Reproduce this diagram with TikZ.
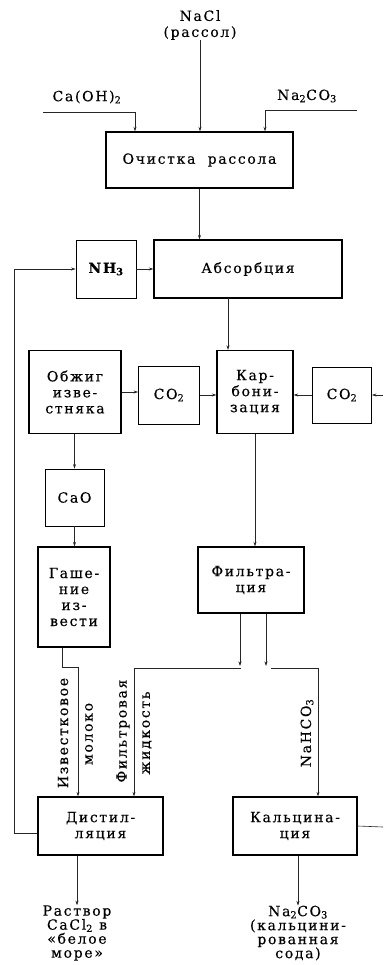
\documentclass[tikz,border=0pt]{standalone}
\usepackage{fontspec}
\setmainfont{DejaVu Serif}[LetterSpace=12, FakeBold=0.3]
\usetikzlibrary{arrows.meta}
\tikzset{
  base/.style={font=\fontsize{14}{16}\selectfont, align=center, inner sep=0pt},
  mainbox/.style={base, draw, line width=1.4pt},
  smallbox/.style={base, draw, line width=0.9pt},
  lbl/.style={base},
  conn/.style={line width=0.6pt, black!85},
  arr/.style={conn, -{Stealth[length=4.5pt,width=3pt]}},
}
\begin{document}
\begin{tikzpicture}[x=1pt,y=-1pt]
\useasboundingbox (0,0) rectangle (383,965);
% boxes
\node[mainbox, minimum width=187, minimum height=56] (ochist) at (199.5,160) {Очистка\ \ рассола};
\node[mainbox, minimum width=188, minimum height=58] (absorb) at (248,269) {Абсорбция};
\node[smallbox, minimum width=60, minimum height=58] (nh3) at (106,269) {\textbf{NH\textsubscript{3}}};
\node[mainbox, minimum width=92, minimum height=83] (obzhig) at (75,392) {Обжиг\\изве-\\стняка};
\node[smallbox, minimum width=61, minimum height=58] (co2a) at (169,395) {CO\textsubscript{2}};
\node[mainbox, minimum width=76, minimum height=83] (karb) at (255,392) {Кар-\\бони-\\зация};
\node[smallbox, minimum width=59, minimum height=56] (co2b) at (342,395) {CO\textsubscript{2}};
\node[smallbox, minimum width=59, minimum height=57] (cao) at (74.5,497.5) {СаО};
\node[mainbox, minimum width=72, minimum height=100] (gash) at (74,597) {Гаше-\\ние\\из-\\вести};
\node[mainbox, minimum width=106, minimum height=66] (filt) at (251,580) {Фильтра-\\ция};
\node[mainbox, minimum width=125, minimum height=58] (dist) at (100.5,826) {Дистил-\\ляция};
\node[mainbox, minimum width=124, minimum height=58] (kalc) at (295,826) {Кальцина-\\ция};
% free labels
\node[lbl] (nacl) at (200,25) {NaCl\\(рассол)};
\node[lbl] (caoh) at (87,97) {Ca(OH)\textsubscript{2}};
\node[lbl] (naco) at (307,96) {Na\textsubscript{2}CO\textsubscript{3}};
\node[lbl, font=\fontsize{14}{14}\selectfont] (res1) at (77,933) {Раствор\\CaCl\textsubscript{2} в\\«белое\\море»};
\node[lbl, font=\fontsize{14}{14}\selectfont] (res2) at (298,933) {Na\textsubscript{2}CO\textsubscript{3}\\(кальцини-\\рованная\\сода)};
\node[lbl, rotate=90] (l1) at (63,733) {Известковое};
\node[lbl, rotate=90] (l2) at (89,734) {молоко};
\node[lbl, rotate=90] (l3) at (123,731) {Фильтровая};
\node[lbl, rotate=90] (l4) at (147,733) {жидкость};
\node[lbl, rotate=90] (l5) at (307,733) {NaHCO\textsubscript{3}};
% coordinates
\coordinate (caohL) at (43,112);
\coordinate (caohR) at (135,112);
\coordinate (nacoR) at (357,110);
\coordinate (nacoL) at (265,110);
\coordinate (loopB) at (14,833);
\coordinate (a1) at (228,298);
\coordinate (rin) at (383,395);
\coordinate (g1) at (62,667);
\coordinate (g2) at (78,667);
\coordinate (f1) at (240,666);
\coordinate (f2) at (266,666);
\coordinate (h1) at (241,668);
\coordinate (h2) at (134,668);
\coordinate (h3) at (271,668);
\coordinate (h4) at (318,668);
\coordinate (kout) at (383,827);
% connectors
\draw[arr] (nacl.south) -- (nacl.south |- ochist.north);
\draw[arr] (caohL) -- (caohR) -- (caohR |- ochist.north);
\draw[arr] (nacoR) -- (nacoL) -- (nacoL |- ochist.north);
\draw[arr] (ochist.south) -- (ochist.south |- absorb.north);
\draw[arr] (nh3.east) -- (nh3.east -| absorb.west);
\draw[arr] (dist.west |- loopB) -- (loopB) -- (loopB |- nh3.west) -- (nh3.west);
\draw[arr] (a1) -- (a1 |- karb.north);
\draw[arr] (obzhig.east) -- (co2a.west |- obzhig.east);
\draw[arr] (co2a.east) -- (karb.west |- co2a.east);
\draw[arr] (co2b.west) -- (karb.east |- co2b.west);
\draw[arr] (rin) -- (co2b.east);
\draw[arr] (karb.south) -- (karb.south |- filt.north);
\draw[arr] (cao.north |- obzhig.south) -- (cao.north);
\draw[arr] (cao.south) -- (cao.south |- gash.north);
\draw[arr] (g1 |- gash.south) -- (g1) -- (g2) -- (g2 |- dist.north);
\draw[arr] (f1 |- filt.south) -- (f1);
\draw[arr] (f2 |- filt.south) -- (f2);
\draw[arr] (h1) -- (h2) -- (h2 |- dist.north);
\draw[arr] (h3) -- (h4) -- (h4 |- kalc.north);
\draw[arr] (res1.north |- dist.south) -- (res1.north);
\draw[arr] (res2.north |- kalc.south) -- (res2.north);
\draw[conn] (kalc.east) -- (kout);
\end{tikzpicture}
\end{document}
